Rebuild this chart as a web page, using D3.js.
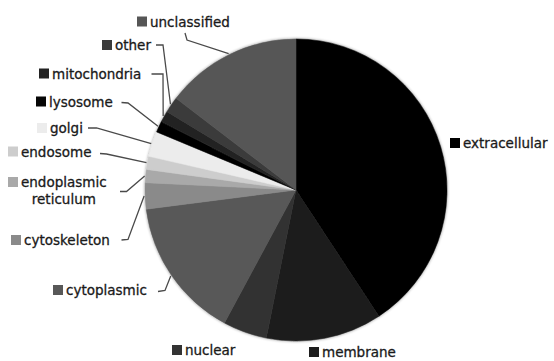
<!DOCTYPE html>
<html><head><meta charset="utf-8">
<script src="https://cdn.jsdelivr.net/npm/d3@7"></script>
<style>
html,body{margin:0;padding:0;background:#fff;}
svg{display:block;}
text{font-family:"DejaVu Sans",Verdana,sans-serif;font-size:13.5px;fill:#1a1a1a;stroke:#1a1a1a;stroke-width:0.3px;}
</style></head>
<body><svg id="chart" width="554" height="361"></svg>
<script>
const categories = ["extracellular","membrane","nuclear","cytoplasmic","cytoskeleton","endoplasmic reticulum","endosome","golgi","lysosome","mitochondria","other","unclassified"];
const values = [40.7,12.4,4.7,15.1,2.8,1.4,1.4,2.7,1.2,1.2,1.7,14.6];
const colors = ["#000000","#1d1d1d","#333333","#585858","#8a8a8a","#a9a9a9","#cdcdcd","#ececec","#060606","#222222","#3b3b3b","#565656"];

// label layout: swatch left x, swatch centre y, text lines, leader start & elbow (null = no leader)
const labelLayout = [
  {sx:450, sy:143, lines:["extracellular"], lead:null},
  {sx:309, sy:352, lines:["membrane"], lead:null},
  {sx:172, sy:350, lines:["nuclear"], lead:null},
  {sx:53,  sy:290, lines:["cytoplasmic"], lead:[[158,291.5],[165,290.5]]},
  {sx:11,  sy:240, lines:["cytoskeleton"], lead:[[121.5,240],[128,239.5]]},
  {sx:8,   sy:182, lines:["endoplasmic","reticulum"], lead:[[120,191.5],[126.5,191.5]]},
  {sx:8,   sy:151.5, lines:["endosome"], lead:[[100,153.5],[106.5,154]]},
  {sx:37,  sy:128, lines:["golgi"], lead:[[88,128],[96.5,128]]},
  {sx:36,  sy:101.5, lines:["lysosome"], lead:[[121.5,102.5],[128,103]]},
  {sx:39,  sy:73.5, lines:["mitochondria"], lead:[[151.5,74],[163,74]]},
  {sx:102, sy:45, lines:["other"], lead:[[156,45],[163,45]]},
  {sx:137, sy:21.5, lines:["unclassified"], lead:[[185,33],[187,40]]}
];

const svg = d3.select("#chart");
const cx = 296, cy = 190, R = 151;

const defs = svg.append("defs");
const f = defs.append("filter").attr("id","soft").attr("x","-10%").attr("y","-10%").attr("width","120%").attr("height","120%");
f.append("feGaussianBlur").attr("in","SourceAlpha").attr("stdDeviation",1.5).attr("result","b");
f.append("feComponentTransfer").attr("in","b").attr("result","s").append("feFuncA").attr("type","linear").attr("slope",0.45);
const m = f.append("feMerge");
m.append("feMergeNode").attr("in","s");
m.append("feMergeNode").attr("in","SourceGraphic");

const data = categories.map((c,i)=>({name:c, value:values[i], color:colors[i]}));
const pie = d3.pie().sort(null).value(d=>d.value).startAngle(0).endAngle(2*Math.PI);
const arcs = pie(data);
const arc = d3.arc().innerRadius(0).outerRadius(R);
const edge = d3.arc().innerRadius(R+1).outerRadius(R+1);

const g = svg.append("g").attr("transform",`translate(${cx},${cy})`).attr("filter","url(#soft)");
g.selectAll("path").data(arcs).join("path")
  .attr("d",arc).attr("fill",d=>d.data.color)
  .attr("stroke",d=>d.data.color).attr("stroke-width",0.5);

// leader lines
const lines = svg.append("g");
labelLayout.forEach(L=>{
  if(!L.lead) return;
  const a = arcs.find(d=>d.data.name===L.lines.join(" "));
  const p = edge.centroid(a);
  const pts = [L.lead[0], L.lead[1], [p[0]+cx, p[1]+cy]];
  lines.append("path").attr("d", d3.line()(pts))
    .attr("fill","none").attr("stroke","#4a4a4a").attr("stroke-width",1.3);
});

// labels
const lab = svg.append("g");
labelLayout.forEach(L=>{
  const a = arcs.find(d=>d.data.name===L.lines.join(" "));
  lab.append("rect").attr("x",L.sx).attr("y",L.sy-5).attr("width",10).attr("height",10)
    .attr("fill",a.data.color);
  const t = lab.append("text").attr("x",L.sx+13).attr("y",L.sy+5);
  if(L.lines.length===1){
    t.text(L.lines[0]);
  } else {
    t.append("tspan").attr("x",L.sx+13).text(L.lines[0]);
    const w0 = t.node().getComputedTextLength();
    const sp = t.append("tspan").text(L.lines[1]);
    const tmp = lab.append("text").text(L.lines[1]);
    const w1 = tmp.node().getComputedTextLength(); tmp.remove();
    sp.attr("x", L.sx+13 + (w0-w1)/2).attr("dy",17);
  }
});
</script></body></html>
